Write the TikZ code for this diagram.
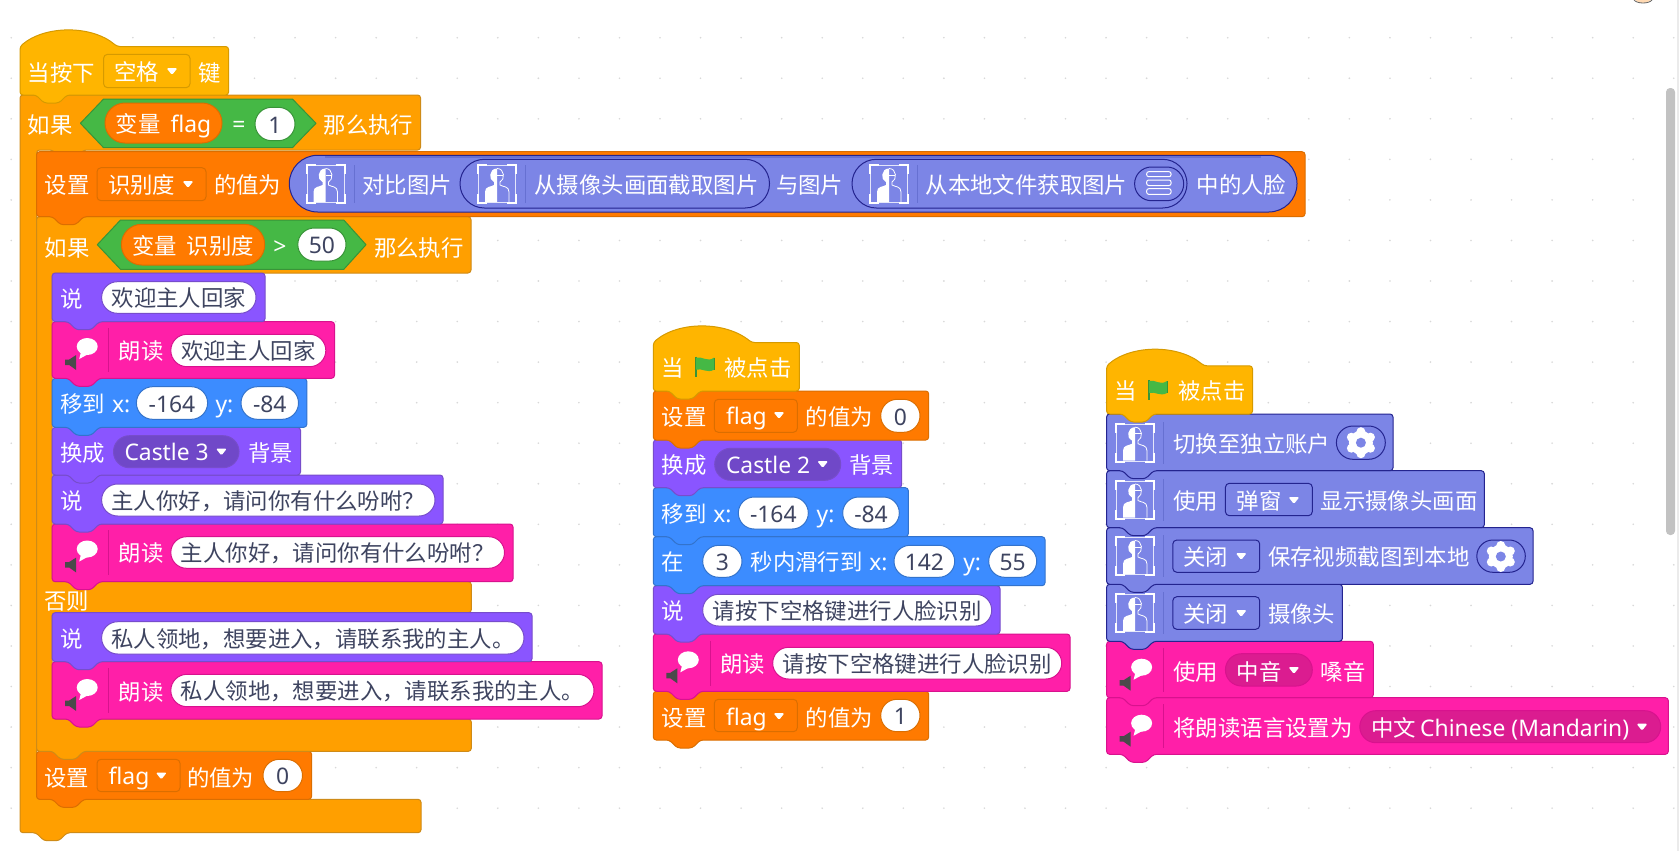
\documentclass[tikz,border=0pt]{standalone}
\usepackage{fontspec}
\setmainfont{Noto Sans CJK SC}
\newfontfamily\lat[Scale=1.02]{Noto Sans}
\definecolor{hatc}{HTML}{FFB500}\definecolor{hatb}{HTML}{D69A00}
\definecolor{ctrl}{HTML}{FF9F00}\definecolor{ctrlb}{HTML}{CF8B17}
\definecolor{vari}{HTML}{FF7A00}\definecolor{varib}{HTML}{DB6E00}
\definecolor{look}{HTML}{8A55FF}\definecolor{lookb}{HTML}{774DCB}\definecolor{lookd}{HTML}{7048C8}
\definecolor{pinkc}{HTML}{FF1FA8}\definecolor{pinkb}{HTML}{D8128E}\definecolor{pinkd}{HTML}{DB1C90}
\definecolor{mot}{HTML}{3C8CFF}\definecolor{motb}{HTML}{3373CC}
\definecolor{peri}{HTML}{7C85E6}\definecolor{perib}{HTML}{24248F}\definecolor{peris}{HTML}{6670D2}
\definecolor{grn}{HTML}{45B845}\definecolor{grnb}{HTML}{389438}
\definecolor{ink}{HTML}{3E4460}\definecolor{dotc}{HTML}{D8D8D8}\definecolor{spk}{HTML}{4A4A4A}
\newcounter{tnode}
\newcommand\tx[3]{\stepcounter{tnode}\node[txt,name=t\arabic{tnode}] at (#1,{#2+9.3}) {#3};}
\newcommand\cx[3]{\stepcounter{tnode}\node[txtc,name=t\arabic{tnode}] at (#1,{#2+9.3}) {#3};}
\newcommand\blk[6]{\draw[blockline,fill=#1,draw=#2] (#3,#4) -- (#5,#4) -- (#5,#6) -- ({#3+47},#6) -- ({#3+39},{#6+8}) -- ({#3+24},{#6+8}) -- ({#3+16},#6) -- (#3,#6) -- cycle;}
\newcommand\hatblk[7]{\draw[blockline,fill=#1,draw=#2] (#3,{#4+16.5}) .. controls ({#3+25},{#4-5}) and ({#3+72},{#4-5}) .. (#7,{#4+16.5}) -- (#5,{#4+16.5}) -- (#5,#6) -- ({#3+47},#6) -- ({#3+39},{#6+8}) -- ({#3+24},{#6+8}) -- ({#3+16},#6) -- (#3,#6) -- cycle;}
\newcommand\pill[6]{\pgfmathsetmacro\rr{(#6-#4)/4-0.02}\draw[line width=0.5pt,fill=#1,draw=#2,rounded corners=\rr pt] (#3,#4) rectangle (#5,#6);}
\newcommand\wpill[5]{\pill{white}{cb}{#1}{#3}{#2}{#4}\stepcounter{tnode}\node[txtc,text=ink,name=t\arabic{tnode}] at ({(#1+#2)/2},{(#3+#4)/2+9.3}) {#5};}
\newcommand\dbox[6]{\draw[line width=0.5pt,fill=#1,draw=#2,rounded corners=2pt] (#3,#4) rectangle (#5,#6);}
\newcommand\ddarr[2]{\fill[white,rounded corners=0.7pt] ({#1-5.5},{#2-3}) -- ({#1+5.5},{#2-3}) -- (#1,{#2+4}) -- cycle;}
\newcommand\vsep[4]{\draw[line width=0.5pt,#1] (#2,#3) -- (#2,#4);}
\newcommand\faceicon[2]{\begin{scope}[shift={(#1,#2)}]
\draw[white,line width=0.25pt,opacity=.8] (-18.5,-18.5) rectangle (18.5,18.5);
\draw[white,line width=1pt] (-19,-10) -- (-19,-19) -- (-10,-19) (10,-19) -- (19,-19) -- (19,-10) (19,10) -- (19,19) -- (10,19) (-10,19) -- (-19,19) -- (-19,10);
\fill[white] (0,-15.5) .. controls (-8,-15.5) and (-9,-4) .. (-3,-2) -- (-3,1) .. controls (-6,3) and (-12,2) .. (-12,8) -- (-12,18) -- (0,18) -- cycle;
\draw[white,line width=0.4pt] (0,-15.5) .. controls (8,-15.5) and (8,-4) .. (3,-2) -- (3,1) .. controls (6,3) and (12,2) .. (12,8) -- (12,18);
\draw[white,line width=0.4pt] (0,-9) -- (6,-9);
\end{scope}}
\newcommand\spkicon[2]{\begin{scope}[shift={(#1,#2)}]
\fill[white] (35,-3.5) ellipse [x radius=10.5,y radius=8.5];
\fill[white] (29,1) -- (27,9) -- (38,3) -- cycle;
\fill[spk] (13,9.5) -- (17,9.5) -- (24,5) -- (24,20) -- (17,15) -- (13,15) -- cycle;
\end{scope}}
\newcommand\gearicon[2]{\begin{scope}[shift={(#1,#2)}]
\fill[white] (0,0) circle [radius=12];
\foreach \a in {30,90,...,330} \fill[white] (\a:11) circle [radius=4.5];
\fill[peri] (0,0) circle [radius=5];
\end{scope}}
\newcommand\flagicon[2]{\begin{scope}[shift={(#1,#2)}]
\draw[grnb,line width=1pt] (0.5,0) -- (0.5,20);
\fill[grn] (1,1) .. controls (7,-1) and (12,6) .. (19,1) -- (19,13) .. controls (12,17) and (7,11) .. (1,13) -- cycle;
\draw[grnb,line width=0.4pt] (19,1) -- (19,13);
\end{scope}}
\tikzset{
 blockline/.style={line width=0.5pt,rounded corners=1.5pt},
 txt/.style={anchor=base west,inner sep=0pt,outer sep=0pt,text=white,font=\fontsize{11.2}{13}\selectfont},
 txtc/.style={anchor=base,inner sep=0pt,outer sep=0pt,text=white,font=\fontsize{11.2}{13}\selectfont},
}
\begin{document}
\begin{tikzpicture}[x=0.5pt,y=-0.5pt]
\path[use as bounding box,fill=white] (0,0) rectangle (1680,851);
\foreach \i in {0,...,41} \foreach \j in {0,...,19} \fill[dotc] ({11.2+40.55*\i},{37.7+40.55*\j}) circle (0.45pt);
% scrollbar and corner
\draw[line width=0.6pt,black!8] (1678,0) -- (1678,851);
\fill[black!24,rounded corners=2pt] (1666,88) rectangle (1675,535);
\fill[orange!30] (1633,-3) .. controls (1636,5) and (1650,5) .. (1653,-3) -- cycle;
\draw[line width=0.4pt,black!60] (1634,0) .. controls (1637,4) and (1649,4) .. (1652,0);
% ===== stack 1 =====
\draw[blockline,fill=ctrl,draw=ctrlb] (20,95) -- (420.6,95) -- (420.6,150) -- (83.6,150) -- (75.6,158) -- (60.6,158) -- (52.6,150) -- (36.6,150) -- (36.6,799.3) -- (421,799.3) -- (421,832.7) -- (67,832.7) -- (59,840.7) -- (44,840.7) -- (36,832.7) -- (20,832.7) -- cycle;
\blk{vari}{varib}{36.6}{751.3}{311.6}{799.3}
\draw[blockline,fill=ctrl,draw=ctrlb] (36.6,216.7) -- (471,216.7) -- (471,273) -- (99.2,273) -- (91.2,281) -- (76.2,281) -- (68.2,273) -- (52.2,273) -- (52.2,581.7) -- (471.3,581.7) -- (471.3,612.7) -- (99.2,612.7) -- (91.2,620.7) -- (76.2,620.7) -- (68.2,612.7) -- (52.2,612.7) -- (52.2,719) -- (471.3,719) -- (471.3,751.3) -- (83.6,751.3) -- (75.6,759.3) -- (60.6,759.3) -- (52.6,751.3) -- (36.6,751.3) -- cycle;
\blk{pinkc}{pinkb}{52.2}{661.7}{602}{719}
\blk{look}{lookb}{52.2}{612.7}{532}{661.7}
\blk{pinkc}{pinkb}{52.2}{524}{513}{581.7}
\blk{look}{lookb}{52.2}{475}{443}{524}
\blk{look}{lookb}{52.2}{427.3}{300.5}{475}
\blk{mot}{motb}{52.2}{378.3}{306.8}{427.3}
\blk{pinkc}{pinkb}{52.2}{321.7}{334.5}{378.3}
\blk{look}{lookb}{52.2}{273}{265}{321.7}
\blk{vari}{varib}{36.6}{151.7}{1305}{216.7}
\hatblk{hatc}{hatb}{20}{30}{228.6}{95}{117}
% hat text
\tx{27.7}{71.7}{当按下}
\dbox{hatc}{hatb}{103.6}{54.3}{190}{87.7}
\tx{114}{71}{空格}\ddarr{172}{71}
\tx{198}{71.7}{键}
% if flag
\tx{27.7}{124}{如果}
\draw[line width=0.5pt,fill=grn,draw=grnb,line join=round] (80.4,123.3) -- (103.6,99) -- (292.4,99) -- (316,123.3) -- (292.4,147.7) -- (103.6,147.7) -- cycle;
\pill{vari}{varib}{105}{103}{222}{143}
\cx{163.5}{123}{变量\hspace{5pt}{\lat flag}}
\cx{238.8}{123}{{\lat =}}
\colorlet{cb}{grnb}\wpill{255}{295}{107.3}{140.7}{{\lat 1}}
\tx{323.7}{124}{那么执行}
% set row
\tx{44.6}{184}{设置}
\dbox{vari}{varib}{97}{167.7}{206}{200.7}
\tx{108}{184}{识别度}\ddarr{188}{184}
\tx{214}{184}{的值为}
\pill{peri}{perib}{289.3}{155.3}{1297}{212}
\draw[line width=1pt,peris] (325,157) -- (1261,157);
\faceicon{325.5}{184}\vsep{peris}{354}{165}{203}
\tx{362.5}{184}{对比图片}
\pill{peri}{perib}{460}{159.3}{769.5}{208}
\faceicon{497}{184}\vsep{peris}{525}{165}{203}
\tx{534.4}{184}{从摄像头画面截取图片}
\tx{776}{184}{与图片}
\pill{peri}{perib}{852}{159.3}{1187}{208}
\faceicon{889}{184}\vsep{peris}{917.7}{165}{203}
\tx{925.7}{184}{从本地文件获取图片}
\pill{peri}{perib}{1134.6}{167}{1183.7}{200.7}
\draw[white,line width=0.5pt,rounded corners=1pt] (1146.7,171.7) rectangle (1171,176.7) (1146.7,180) rectangle (1171,185.5) (1146.7,188.7) rectangle (1171,194.3);
\tx{1196.7}{184}{中的人脸}
% if recog
\tx{44.6}{246.7}{如果}
\draw[line width=0.5pt,fill=grn,draw=grnb,line join=round] (97.3,244.7) -- (120.5,220) -- (343.8,220) -- (366,244.7) -- (343.8,269.3) -- (120.5,269.3) -- cycle;
\pill{vari}{varib}{121.4}{224.3}{264.7}{265}
\cx{193}{244.7}{变量\hspace{5pt}识别度}
\cx{280}{244.7}{{\lat >}}
\wpill{297.8}{346}{228}{261}{{\lat 50}}
\tx{374}{246.7}{那么执行}
% say 1
\colorlet{cb}{lookb}
\tx{60.5}{298.3}{说}\wpill{101.6}{256}{281.7}{313.3}{欢迎主人回家}
% speak 1
\colorlet{cb}{pinkb}
\spkicon{52.2}{350}\vsep{pinkb}{108.7}{328}{372}
\tx{118.6}{350}{朗读}\wpill{170.8}{325.8}{334.3}{366.7}{欢迎主人回家}
% move
\colorlet{cb}{motb}
\tx{60.5}{403}{移到}\tx{112}{403}{{\lat x:}}\wpill{136.4}{207.6}{386.7}{419.3}{{\lat -164}}
\tx{215.5}{403}{{\lat y:}}\wpill{241}{298.5}{386.7}{419.3}{{\lat -84}}
% switch
\tx{60.5}{452.3}{换成}
\pill{lookd}{lookb}{113.5}{435.7}{239}{467.7}
\tx{124.5}{451.5}{{\lat Castle 3}}\ddarr{221.4}{451.5}
\tx{248}{452.3}{背景}
% say 2
\colorlet{cb}{lookb}
\tx{60.5}{500}{说}\wpill{101.6}{435}{484}{516}{主人你好，请问你有什么吩咐？}
% speak 2
\colorlet{cb}{pinkb}
\spkicon{52.2}{552.5}\vsep{pinkb}{108.7}{530}{575}
\tx{118.6}{552.5}{朗读}\wpill{170.8}{504.5}{536.7}{568.3}{主人你好，请问你有什么吩咐？}
% else
\tx{44.3}{600}{否则}
% say 3
\colorlet{cb}{lookb}
\tx{60.5}{637.7}{说}\wpill{101.6}{524}{621.7}{654}{私人领地，想要进入，请联系我的主人。}
% speak 3
\colorlet{cb}{pinkb}
\spkicon{52.2}{691}\vsep{pinkb}{108.7}{668}{713}
\tx{118.6}{691}{朗读}\wpill{170.8}{594}{674.3}{706.7}{私人领地，想要进入，请联系我的主人。}
% set flag 0
\tx{44.3}{776.7}{设置}
\dbox{vari}{varib}{97}{759.3}{180}{791.7}
\tx{108.7}{775.5}{{\lat flag}}\ddarr{161.3}{775.5}
\tx{187}{776.7}{的值为}
\colorlet{cb}{varib}\wpill{263}{302.5}{759.3}{791.7}{{\lat 0}}
% ===== stack 2 =====
\blk{vari}{varib}{653.3}{691.3}{928.7}{740}
\blk{pinkc}{pinkb}{653.3}{634}{1070}{691.3}
\blk{look}{lookb}{653.3}{585.7}{1000}{634}
\blk{mot}{motb}{653.3}{536.7}{1045}{585.7}
\blk{mot}{motb}{653.3}{487.7}{908.3}{536.7}
\blk{look}{lookb}{653.3}{440}{901.7}{487.7}
\blk{vari}{varib}{653.3}{391}{928.7}{440}
\hatblk{hatc}{hatb}{653.3}{326}{799.3}{391}{751.7}
\tx{661.7}{366.7}{当}\flagicon{695}{356.7}\tx{724.3}{366.7}{被点击}
\tx{661.7}{415.7}{设置}
\dbox{vari}{varib}{714.3}{399.3}{797.3}{432.3}
\tx{726}{415}{{\lat flag}}\ddarr{779}{415}
\tx{805.7}{415.7}{的值为}
\colorlet{cb}{varib}\wpill{880.7}{920}{399.3}{432.3}{{\lat 0}}
\tx{661.7}{464.3}{换成}
\pill{lookd}{lookb}{714.7}{448.3}{840.7}{480.3}
\tx{726}{464}{{\lat Castle 2}}\ddarr{822.7}{464}
\tx{849}{464.3}{背景}
\colorlet{cb}{motb}
\tx{661.7}{513}{移到}\tx{713.3}{513}{{\lat x:}}
\wpill{738.3}{808.3}{497}{529}{{\lat -164}}
\tx{816.7}{513}{{\lat y:}}\wpill{842.7}{899.3}{497}{529}{{\lat -84}}
\tx{661.7}{561.3}{在}\wpill{702.7}{742}{545.3}{577.3}{{\lat 3}}
\tx{750.7}{561.3}{秒内滑行到}\tx{869.3}{561.3}{{\lat x:}}
\wpill{894}{954.7}{545.3}{577.3}{{\lat 142}}
\tx{963.3}{561.3}{{\lat y:}}\wpill{988.7}{1036.7}{545.3}{577.3}{{\lat 55}}
\colorlet{cb}{lookb}
\tx{661.7}{610}{说}\wpill{702.7}{991.7}{594.3}{626}{请按下空格键进行人脸识别}
\colorlet{cb}{pinkb}
\spkicon{653.3}{663.3}\vsep{pinkb}{710.7}{641}{686}
\tx{720}{663.3}{朗读}\wpill{772.7}{1061.7}{647.3}{679}{请按下空格键进行人脸识别}
\tx{661.7}{716.7}{设置}
\dbox{vari}{varib}{714.3}{699.3}{797.3}{731.7}
\tx{726}{716}{{\lat flag}}\ddarr{779}{716}
\tx{805.7}{716.7}{的值为}
\colorlet{cb}{varib}\wpill{880.7}{920}{699.3}{731.7}{{\lat 1}}
% ===== stack 3 =====
\blk{pinkc}{pinkb}{1106.6}{697.7}{1668.3}{754.3}
\blk{pinkc}{pinkb}{1106.6}{641.3}{1373.3}{697.7}
\blk{peri}{perib}{1106.6}{584.3}{1342.4}{641.3}
\blk{peri}{perib}{1106.6}{527.7}{1533}{584.3}
\blk{peri}{perib}{1106.6}{470.7}{1484.3}{527.7}
\blk{peri}{perib}{1106.6}{414}{1393}{470.7}
\hatblk{hatc}{hatb}{1106.6}{349.3}{1252.5}{414}{1204}
\tx{1114.8}{390}{当}\flagicon{1148}{380}\tx{1178.4}{390}{被点击}
% row 1
\faceicon{1135}{442.7}\vsep{peris}{1163.4}{422}{464}
\tx{1173.5}{442.7}{切换至独立账户}
\pill{peri}{perib}{1336.4}{426}{1385.3}{459.3}\gearicon{1360.9}{442.7}
% row 2
\faceicon{1135}{499.5}\vsep{peris}{1163.4}{479}{521}
\tx{1173.5}{500}{使用}
\dbox{peri}{perib}{1225.4}{483.3}{1312.3}{515.7}
\tx{1236.7}{500}{弹窗}\ddarr{1293.9}{500}
\tx{1320.6}{500}{显示摄像头画面}
% row 3
\faceicon{1135}{556}\vsep{peris}{1163.4}{535}{577}
\dbox{peri}{perib}{1172.8}{540}{1259.7}{572.3}
\tx{1183.3}{556}{关闭}\ddarr{1241.2}{556}
\tx{1268}{556}{保存视频截图到本地}
\pill{peri}{perib}{1476.8}{540}{1525.3}{572.3}\gearicon{1500.8}{556.5}
% row 4
\faceicon{1135}{613}\vsep{peris}{1163.4}{592}{634}
\dbox{peri}{perib}{1172.8}{596.7}{1259.7}{629.3}
\tx{1183.3}{613}{关闭}\ddarr{1241.2}{613}
\tx{1268}{613}{摄像头}
% row 5
\spkicon{1106.6}{670.7}\vsep{pinkb}{1163.4}{648}{692}
\tx{1173.5}{670.7}{使用}
\pill{pinkd}{pinkb}{1225.4}{653.7}{1312.3}{686}
\tx{1236.7}{670.7}{中音}\ddarr{1293.9}{670}
\tx{1320.6}{670.7}{嗓音}
% row 6
\spkicon{1106.6}{726.7}\vsep{pinkb}{1163.4}{704}{748}
\tx{1173.5}{726.7}{将朗读语言设置为}
\pill{pinkd}{pinkb}{1359.8}{710.7}{1660.7}{742.7}
\tx{1371.4}{726.7}{中文\hspace{2pt}{\lat Chinese (Mandarin)}}\ddarr{1642}{726.7}
\end{tikzpicture}
\end{document}
